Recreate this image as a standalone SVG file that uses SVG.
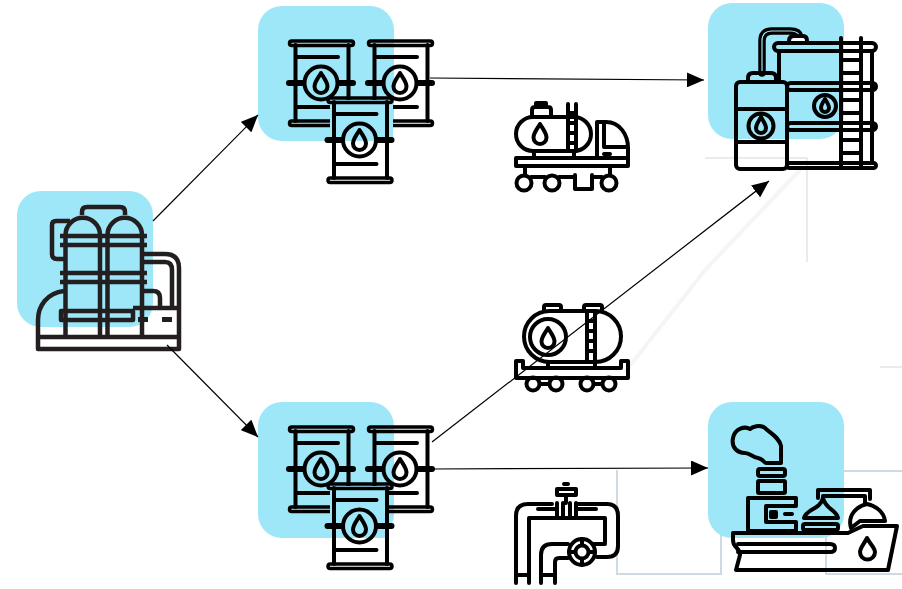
<svg xmlns="http://www.w3.org/2000/svg" width="902" height="589" viewBox="0 0 902 589">
<style>
.bg{fill:#9de7f9}
.k{fill:none;stroke:#000;stroke-width:4;stroke-linejoin:round;stroke-linecap:round}
.r{fill:none;stroke:#231f20;stroke-width:4.500;stroke-linejoin:round}
.faint{fill:none;stroke:#e9ebec;stroke-width:2}
.panel{fill:none;stroke:#cfdbe2;stroke-width:2}
.c{fill:none;stroke:#000;stroke-width:1.200}
.rim{stroke-width:3.500}
</style>
<defs>
<marker id="ah" markerUnits="userSpaceOnUse" markerWidth="18" markerHeight="15" refX="17" refY="7.500" orient="auto"><path d="M0 0L17 7.500L0 15Z" fill="#000"/></marker>
<path id="drop" d="M0-10C-3-5-6.500-1-6.500 3.500A6.500 6.500 0 0 0 6.500 3.500C6.500-1 3-5 0-10Z"/>
<g id="barrel" class="k">
<rect class="rim" x="289.500" y="41" width="64" height="4.500" rx="2.200"/>
<rect class="rim" x="289.500" y="121" width="64" height="4.500" rx="2.200"/>
<path d="M295.500 45V81M295.500 86V121M348.500 45V81M348.500 86V121M296 57H338M296 107H338"/>
<path d="M289 83H303M339 83H353" stroke-width="6"/>
<circle cx="321" cy="83" r="16.500"/>
<use href="#drop" x="321" y="83"/>
</g>
</defs>
<g id="backdrop">
<path class="faint" d="M705 158H808M807 158V262M880 367H902"/>
<path d="M800 170L705 270L625 372" fill="none" stroke="#f4f5f6" stroke-width="4"/>
<path class="panel" d="M617 575V470M617 574H721V471M826 575V471H902M826 574H902"/>
</g>
<g id="refinery">
<rect class="bg" x="17" y="191" width="136" height="136" rx="24"/>
<g class="r">
<path d="M65.500 337V235A17.250 17.250 0 0 1 100 235V337M107.500 337V235A17.250 17.250 0 0 1 142 235V337"/>
<path d="M82 215V212Q82 207 87 207H120Q125 207 125 212V215"/>
<path d="M70 221H56Q52 221 52 225V254Q52 259 57 259H66"/>
<path d="M60 236H147M60 245H147M60 273H147M60 282H147"/>
<path d="M64 291C47 293 38 306 38 320V349H179V268Q179 254 165 254H143M143 262H165Q172 262 172 270V308M143 291H153Q160 291 160 298V308M133 308H179"/>
<path d="M61 311H133V320H61Z"/>
<path d="M38 337H179"/>
</g>
<path d="M138 317h10v5h-10zM162 317h10v5h-10z" fill="#231f20"/>
</g>
<g id="barrels-top">
<rect class="bg" x="258" y="6" width="136" height="135" rx="24"/>
<use href="#barrel"/>
<use href="#barrel" x="79"/>
<rect x="330" y="100" width="58" height="80" fill="#fff"/>
<rect class="bg" x="330" y="100" width="63" height="41"/>
<use href="#barrel" x="38.500" y="57"/>
</g>
<g id="barrels-bottom">
<rect class="bg" x="258" y="402" width="136" height="136" rx="24"/>
<use href="#barrel" y="386"/>
<use href="#barrel" x="79" y="386"/>
<rect x="330" y="486" width="58" height="80" fill="#fff"/>
<rect class="bg" x="330" y="486" width="58" height="52"/>
<use href="#barrel" x="38.500" y="443"/>
</g>
<g id="tank-farm">
<rect class="bg" x="708" y="3" width="136" height="136" rx="24"/>
<g class="k">
<path d="M762 73V41Q762 31 772 31H790Q799 31 800 37" stroke-width="7.500"/>
<path d="M762 73V41Q762 31 772 31H790Q799 31 800 37" stroke="#9de7f9" stroke-width="1.200"/>
<path d="M789 41Q789 36 794 36H803Q807 36 807 41" fill="#fff"/>
<rect x="774" y="43" width="102" height="8" rx="4"/>
<rect x="787" y="83" width="89" height="7" rx="3.500"/>
<rect x="787" y="123" width="89" height="7" rx="3.500"/>
<rect x="787" y="163" width="89" height="5" rx="2.500"/>
<path d="M779 51V81M872 51V163M841 38V168M861 38V168" />
<path d="M843 60H859M843 73H859M843 100H859M843 113H859M843 140H859M843 153H859"/>
<path d="M748 81V78Q748 73 753 73H771Q776 73 776 78V81"/>
<rect x="736" y="82" width="51" height="87" rx="4"/>
<path d="M736 109H787M736 142H787"/>
<circle cx="761" cy="126" r="12.500"/>
<path d="M761 117C759 121 756 124 756 128A5 5 0 0 0 766 128C766 124 763 121 761 117Z"/>
<circle cx="825" cy="106" r="11"/>
<path d="M825 99C823 102 821 105 821 108A4 4 0 0 0 829 108C829 105 827 102 825 99Z"/>
</g>
</g>
<g id="truck" class="k">
<rect x="516" y="117" width="75" height="34" rx="17"/>
<path d="M532 116V110Q532 107 535 107H548Q551 107 551 110V116M536 107V103H546V107"/>
<path d="M568 104V151M576 104V151M568 113H576M568 123H576M568 133H576M568 143H576"/>
<use href="#drop" x="540" y="134"/>
<rect x="516" y="158" width="112" height="8"/>
<path d="M534 151V158M574 151V158M597 158V122H606C620 122 628 135 628 148V158M604 122V147H628M604 154H610"/>
<path d="M525 166V175M531 177H545M559 177H575M575 175V189H592V175M592 177H602M610 166V175"/>
<circle cx="524" cy="183" r="7.500"/>
<circle cx="552" cy="183" r="7.500"/>
<circle cx="609" cy="183" r="7.500"/>
</g>
<g id="wagon" class="k">
<rect x="524" y="311" width="97" height="51" rx="25.500"/>
<circle cx="548" cy="337" r="18"/>
<use href="#drop" x="548" y="338"/>
<path d="M544 310V307Q544 305 546 305H559Q561 305 561 307V310M584 310V307Q584 305 586 305H600Q602 305 602 307V310"/>
<path d="M587 311V362M595 311V362M587 321H595M587 331H595M587 341H595M587 351H595"/>
<path d="M516 361H523V368H621V361H628V378H516Z"/>
<path d="M548 362V368M595 362V368"/>
<circle cx="533" cy="384" r="6.500"/>
<circle cx="556" cy="384" r="6.500"/>
<circle cx="587" cy="384" r="6.500"/>
<circle cx="609" cy="384" r="6.500"/>
<path d="M540 384H549M594 384H602"/>
</g>
<g id="pipeline" class="k">
<path d="M516 583V516Q516 504 528 504H552M578 504H607Q618 504 618 516V546Q618 557 607 557H597"/>
<path d="M529 583V518H605V542"/>
<path d="M516 575H529M541 575H555M541 583V555Q541 544 552 544H568M555 583V562Q555 558 559 558H568M593 544H605"/>
<rect x="557" y="489" width="19" height="6"/>
<path d="M564 484H568M566 495V503M557 503V517M563 503V517M570 503V517M576 503V517M538 509H556M578 509H596"/>
<circle cx="582" cy="552" r="13"/>
<circle cx="582" cy="552" r="6.500"/>
<path d="M582 539V545M582 559V565M569 552H575M589 552H595"/>
</g>
<g id="ship">
<rect class="bg" x="708" y="402" width="136" height="136" rx="24"/>
<g class="k">
<path d="M733 533H848L863 526H897L888 570H736L740 555Q740 551 736 547Q733 544 733 540Z"/>
<path d="M738 544H830Q835 544 835 548Q835 552 830 552H738"/>
<path d="M867 538C864 544 860 548 860 552A7 7 0 0 0 875 552C875 548 870 544 867 538Z"/>
<path d="M781 463V446C779 437 770 433 765 428C760 424 752 427 750 429C745 426 735 428 733 438C731 448 738 453 745 453C750 453 752 457 758 458C764 459 764 464 767 463Z"/>
<rect x="758" y="469" width="27" height="7" rx="2"/>
<rect x="758" y="481" width="27" height="12" rx="1"/>
<path d="M748 531V498H796V506H766V522H796V531Z"/>
<path d="M771 512H776V517H771Z" fill="#000"/>
<path d="M785 514H792" />
<rect x="803" y="524" width="35" height="6" rx="2"/>
<path d="M804 518C806 509 820 510 823 498V496H865V504M804 518H838C836 509 826 510 823 498"/>
<path d="M818 498V490H870V499"/>
<path d="M851 528C847 514 858 506 867 504C876 506 884 512 885 521H860Z"/>
</g>
</g>
<g id="connectors">
<path class="c" marker-end="url(#ah)" d="M153 221L258 115"/>
<path class="c" marker-end="url(#ah)" d="M167 345L258 437"/>
<path class="c" marker-end="url(#ah)" d="M430 78L704 80"/>
<path class="c" marker-end="url(#ah)" d="M432 442L769 181"/>
<path class="c" marker-end="url(#ah)" d="M430 469L708 468"/>
</g>
</svg>
